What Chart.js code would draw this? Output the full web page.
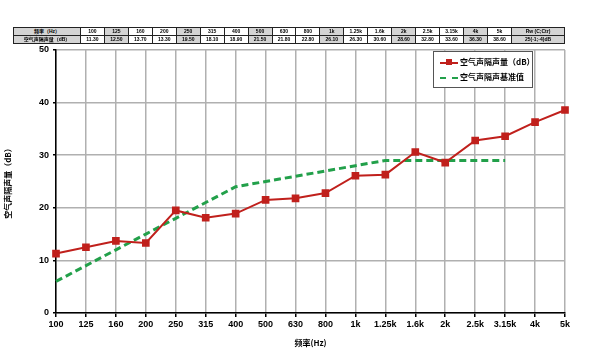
<!DOCTYPE html>
<html>
<head>
<meta charset="utf-8">
<script src="https://cdn.jsdelivr.net/npm/chart.js@4"></script>
<style>
  body { margin: 0; width: 590px; height: 352px; position: relative; background: #fff; overflow: hidden; }
  #wrap { position: absolute; left: 0; top: 0; width: 590px; height: 352px; }
  table { position: absolute; left: 13px; top: 27px; width: 552px; table-layout: fixed; border-collapse: collapse; font-family: "Liberation Sans", "Noto Sans CJK SC", sans-serif; font-size: 5px; font-weight: bold; }
  td { border: 1px solid #222; height: 7px; padding: 0; text-align: center; white-space: nowrap; overflow: hidden; line-height: 7px; }
  td.g { background: #d4d4d4; }
  #legend { position: absolute; left: 433px; top: 51px; width: 98px; height: 35px; border: 1px solid #555; background: #fff; font-family: "Noto Sans CJK SC", sans-serif; font-size: 8px; font-weight: bold; }
  .row { position: absolute; left: 6px; height: 10px; }
  .sw { position: absolute; left: 0; top: 5px; width: 18px; }
  .lbl { position: absolute; left: 20px; top: 0; white-space: nowrap; line-height: 10px; }
</style>
</head>
<body>
<div id="wrap"><canvas id="chartAcoustic" width="590" height="352"></canvas></div>
<table id="tbl"></table>
<div id="legend">
  <div class="row" style="top:5px">
    <div class="sw" style="border-top:2px solid #c0201c"></div>
    <div style="position:absolute;left:6px;top:2px;width:6px;height:6px;background:#c0201c"></div>
    <div class="lbl">空气声隔声量（dB）</div>
  </div>
  <div class="row" style="top:20px">
    <div class="sw" style="border-top:2px dashed #22a04a"></div>
    <div class="lbl">空气声隔声基准值</div>
  </div>
</div>
<script>
const FREQ_LABELS = ['100', '125', '160', '200', '250', '315', '400', '500', '630', '800', '1k', '1.25k', '1.6k', '2k', '2.5k', '3.15k', '4k', '5k'];
const MEASURED = [11.3, 12.5, 13.7, 13.3, 19.5, 18.1, 18.9, 21.5, 21.8, 22.8, 26.1, 26.3, 30.6, 28.6, 32.8, 33.6, 36.3, 38.6];
const REFERENCE = [6, 9, 12, 15, 18, 21, 24, 25, 26, 27, 28, 29, 29, 29, 29, 29];
const TABLE_TEXT = ['11.30', '12.50', '13.70', '13.30', '19.50', '18.10', '18.90', '21.50', '21.80', '22.80', '26.10', '26.30', '30.60', '28.60', '32.80', '33.60', '36.30', '38.60'];
const GREY_COLS = ['125', '250', '500', '1k', '2k', '4k'];
const RW_HEAD = 'Rw (C;Ctr)';
const RW_VALUE = '25(-1;-4)dB';

// table above chart
const tbl = document.getElementById('tbl');
let r1 = '<tr><td class="g" style="width:66px">频率（Hz）</td>';
let r2 = '<tr><td class="g">空气声隔声量（dB）</td>';
FREQ_LABELS.forEach((f, i) => {
  const g = GREY_COLS.includes(f) ? ' class="g"' : '';
  r1 += `<td${g}>${f}</td>`;
  r2 += `<td${g}>${TABLE_TEXT[i]}</td>`;
});
r1 += `<td class="g" style="width:52px">${RW_HEAD}</td></tr>`;
r2 += `<td class="g">${RW_VALUE}</td></tr>`;
tbl.innerHTML = r1 + r2;

const tickFont = { family: 'Liberation Sans', size: 9, weight: 'bold' };

const ctx = document.getElementById('chartAcoustic').getContext('2d');
new Chart(ctx, {
  type: 'line',
  data: {
    labels: FREQ_LABELS,
    datasets: [
      {
        label: '空气声隔声量（dB）',
        data: MEASURED,
        borderColor: '#c0201c',
        backgroundColor: '#c0201c',
        borderWidth: 2,
        pointStyle: 'rect',
        pointRadius: 4,
        tension: 0
      },
      {
        label: '空气声隔声基准值',
        data: REFERENCE,
        borderColor: '#22a04a',
        borderWidth: 3,
        borderDash: [7, 4],
        pointRadius: 0,
        tension: 0
      }
    ]
  },
  options: {
    responsive: false,
    animation: false,
    layout: { padding: { top: 50, right: 25, left: 0, bottom: 0 } },
    plugins: { legend: { display: false }, tooltip: { enabled: false } },
    scales: {
      x: {
        offset: false,
        grid: { color: '#b0b0b0', lineWidth: 1.5, tickLength: 4, tickColor: '#000' },
        border: { color: '#000', width: 1.5 },
        ticks: { color: '#000', font: tickFont, maxRotation: 0, autoSkip: false, padding: 2 },
        title: { display: true, text: '频率(Hz)', color: '#000', font: { family: 'Noto Sans CJK SC', size: 8, weight: 'bold' }, padding: { top: 8 } },
        afterFit: s => { s.height = 39; }
      },
      y: {
        min: 0, max: 50,
        grid: { color: '#b0b0b0', lineWidth: 1.5, tickLength: 3, tickColor: '#000' },
        border: { color: '#000', width: 1.5 },
        ticks: { stepSize: 10, color: '#000', font: tickFont, padding: 4 },
        title: { display: true, text: '空气声隔声量（dB）', color: '#000', font: { family: 'Noto Sans CJK SC', size: 8, weight: 'bold' }, padding: { top: 3, bottom: 0 } },
        afterFit: s => { s.width = 56; }
      }
    }
  }
});
</script>
</body>
</html>
